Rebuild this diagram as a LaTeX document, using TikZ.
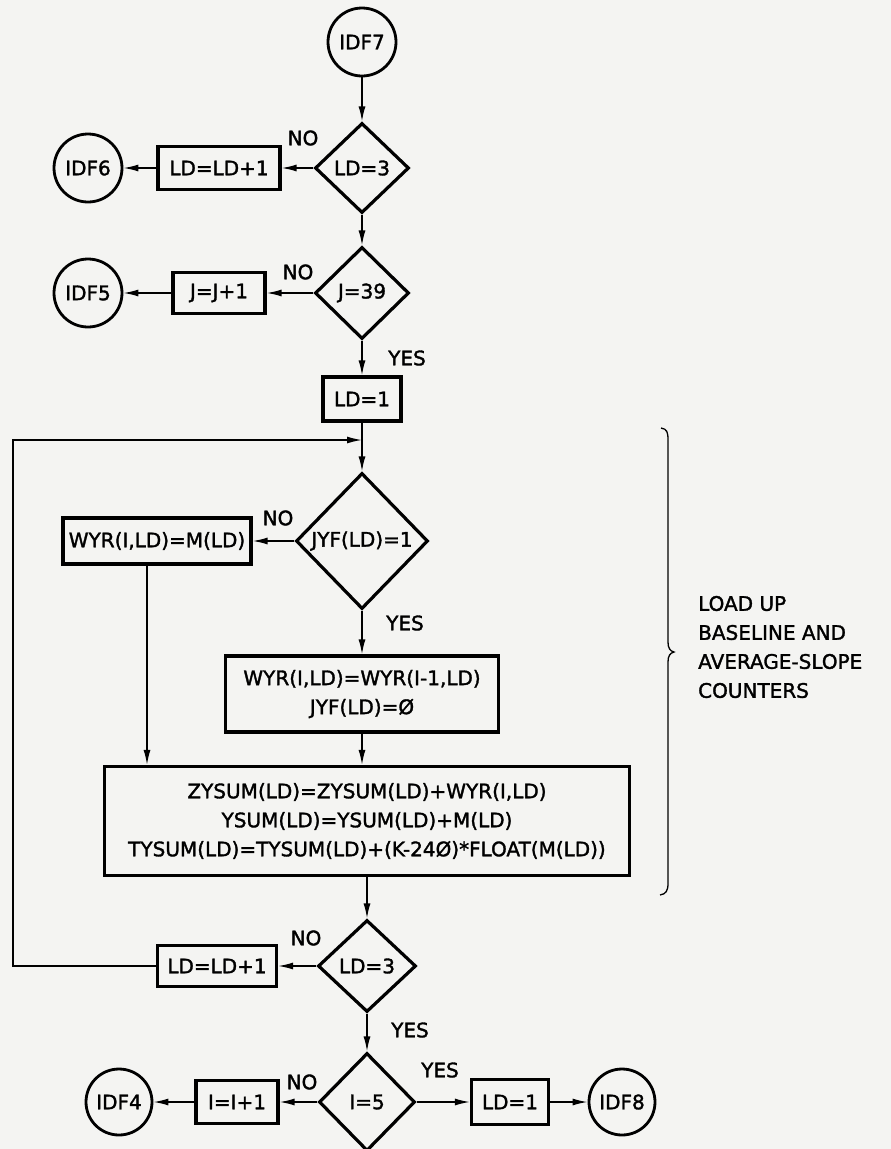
\documentclass[tikz,border=0pt]{standalone}
\usepackage{fontspec}
\setmainfont{DejaVu Sans}[FakeBold=1.6,BoldFont=DejaVu Sans]
\usepackage{xcolor}
\definecolor{paper}{HTML}{F4F4F2}
\usepackage{tikz}
\usetikzlibrary{arrows.meta,shapes.geometric}

\begin{document}
\begin{tikzpicture}[x=1pt,y=-1pt,>={Latex[length=15pt,width=7pt]},
    every node/.style={font=\fontsize{20}{29}\selectfont\bfseries},
    proc/.style={draw,line width=3.2pt,inner sep=0pt,align=center},
    test/.style={draw,diamond,line width=3.2pt,inner sep=0pt},
    conn/.style={draw,circle,line width=2.8pt,minimum size=68pt,inner sep=0pt},
    lbl/.style={inner sep=0pt},
    flow/.style={->,line width=1.5pt}]
    \fill[paper] (0,0) rectangle (891,1149);
    \useasboundingbox (0,0) rectangle (891,1149);
    % upper part
    \node[conn] (idf7) at (362,42) {IDF7};
    \node[test,minimum width=94pt,minimum height=90pt] (ld3a) at (362,168) {LD=3};
    \node[proc,minimum width=122pt,minimum height=43pt] (incA) at (219,168) {LD=LD+1};
    \node[conn] (idf6) at (88,168) {IDF6};
    \node[test,minimum width=94pt,minimum height=92pt] (j39) at (362,293) {J=39};
    \node[proc,minimum width=92pt,minimum height=41pt] (incJ) at (219,293) {J=J+1};
    \node[conn] (idf5) at (88,293) {IDF5};
    \node[proc,minimum width=78pt,minimum height=44pt] (ld1a) at (362,399) {LD=1};
    \coordinate (join) at (362,440);
    % loop body
    \node[test,minimum width=132pt,minimum height=136pt] (jyf) at (362,541) {JYF(LD)=1};
    \node[proc,minimum width=188pt,minimum height=46pt] (wyrM) at (157,541) {WYR(I,LD)=M(LD)};
    \coordinate (wyrMdrop) at ([xshift=-10pt]wyrM.south);
    \node[proc,minimum width=273pt,minimum height=76pt] (wyrP) at (362,694) {WYR(I,LD)=WYR(I-1,LD)\\JYF(LD)=Ø};
    \node[proc,minimum width=525pt,minimum height=109pt] (sums) at (367,821)
      {ZYSUM(LD)=ZYSUM(LD)+WYR(I,LD)\\YSUM(LD)=YSUM(LD)+M(LD)\\TYSUM(LD)=TYSUM(LD)+(K-24Ø)*FLOAT(M(LD))};
    % lower part
    \node[test,minimum width=98pt,minimum height=92pt] (ld3b) at (367,966) {LD=3};
    \node[proc,minimum width=119pt,minimum height=41pt] (incB) at (217,966) {LD=LD+1};
    \coordinate (back) at (13,966);
    \node[test,minimum width=96pt,minimum height=98pt] (i5) at (367,1102) {I=5};
    \node[proc,minimum width=82pt,minimum height=43pt] (incI) at (237,1102) {I=I+1};
    \node[conn,minimum size=66pt] (idf4) at (119,1102) {IDF4};
    \node[proc,minimum width=77pt,minimum height=45pt] (ld1b) at (510,1102) {LD=1};
    \node[conn,minimum size=66pt] (idf8) at (622,1102) {IDF8};

    \draw[flow] (idf7) -- (ld3a);
    \draw[flow] (ld3a) -- (incA);
    \draw[flow] (incA) -- (idf6);
    \draw[flow] (ld3a) -- (j39);
    \draw[flow] (j39) -- (incJ);
    \draw[flow] (incJ) -- (idf5);
    \draw[flow] (j39) -- (ld1a);
    \draw[flow] (ld1a) -- (jyf);
    \draw[flow] (jyf) -- (wyrM);
    \draw[flow] (jyf) -- (wyrP);
    \draw[flow] (wyrMdrop) -- (wyrMdrop |- sums.north);
    \draw[flow] (wyrP) -- (wyrP |- sums.north);
    \draw[flow] (sums) -- (ld3b);
    \draw[flow] (ld3b) -- (incB);
    \draw[flow] (incB.west) -- (back) |- (join);
    \draw[flow] (ld3b) -- (i5);
    \draw[flow] (i5) -- (incI);
    \draw[flow] (incI) -- (idf4);
    \draw[flow] (i5) -- (ld1b);
    \draw[flow] (ld1b) -- (idf8);

    \node[lbl] (no1) at (303,138) {NO};
    \node[lbl] (no2) at (298,272) {NO};
    \node[lbl] (yes1) at (407,358) {YES};
    \node[lbl] (no3) at (278,518) {NO};
    \node[lbl] (yes2) at (405,623) {YES};
    \node[lbl] (no4) at (306,938) {NO};
    \node[lbl] (yes3) at (410,1030) {YES};
    \node[lbl] (no5) at (302,1082) {NO};
    \node[lbl] (yes4) at (440,1070) {YES};

    % brace and note
    \draw[line width=1.3pt] (661,428) .. controls (667,429) and (668,432) .. (668,440) -- (668,642)
      .. controls (668,648) and (670,651) .. (674,652) .. controls (670,653) and (668,656) .. (668,662)
      -- (668,883) .. controls (668,891) and (666,894) .. (660,895);
    \node[lbl,anchor=west,align=left] (note) at (698,647) {LOAD UP\\BASELINE AND\\AVERAGE-SLOPE\\COUNTERS};
  \end{tikzpicture}
\end{document}
